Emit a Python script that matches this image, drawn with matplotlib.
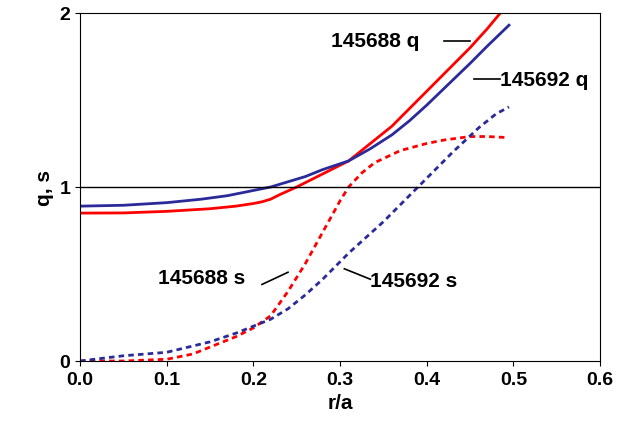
import matplotlib
matplotlib.use("Agg")
import matplotlib.pyplot as plt

plt.rcParams['font.family'] = ['Liberation Sans', 'DejaVu Sans']
plt.rcParams['font.weight'] = 'bold'

rq1 = [0, 0.05, 0.1, 0.15, 0.18, 0.2, 0.21, 0.22, 0.23, 0.25, 0.27, 0.29, 0.31, 0.335, 0.36, 0.38, 0.4, 0.425, 0.45, 0.47, 0.485]
q1 = [0.85, 0.851, 0.86, 0.875, 0.89, 0.905, 0.915, 0.93, 0.955, 1.0, 1.05, 1.1, 1.15, 1.25, 1.35, 1.45, 1.55, 1.675, 1.8, 1.91, 2.0]
rq2 = [0, 0.05, 0.1, 0.14, 0.17, 0.2, 0.22, 0.24, 0.26, 0.28, 0.31, 0.335, 0.36, 0.38, 0.4, 0.425, 0.45, 0.47, 0.495]
q2 = [0.89, 0.895, 0.91, 0.93, 0.95, 0.98, 1.0, 1.03, 1.06, 1.1, 1.15, 1.22, 1.3, 1.38, 1.47, 1.59, 1.71, 1.81, 1.93]
rs1 = [0, 0.05, 0.1, 0.13, 0.15, 0.18, 0.2, 0.22, 0.24, 0.26, 0.28, 0.3, 0.31, 0.325, 0.34, 0.37, 0.4, 0.42, 0.45, 0.47, 0.49]
s1 = [0, 0.0, 0.01, 0.04, 0.08, 0.14, 0.19, 0.26, 0.4, 0.56, 0.74, 0.92, 1.0, 1.08, 1.14, 1.21, 1.25, 1.27, 1.29, 1.29, 1.285]
rs2 = [0, 0.05, 0.1, 0.15, 0.18, 0.2, 0.22, 0.24, 0.26, 0.28, 0.31, 0.35, 0.39, 0.43, 0.46, 0.48, 0.495]
s2 = [0, 0.03, 0.05, 0.11, 0.16, 0.2, 0.24, 0.3, 0.38, 0.47, 0.62, 0.8, 1.0, 1.2, 1.34, 1.42, 1.46]

red = '#ff0000'
blue = '#2a2a9a'
fig = plt.figure(figsize=(6.39, 4.35), dpi=100)
ax = fig.add_axes([80/639, 1-362/435, 520/639, 348/435])
ax.plot(rq1, q1, color=red, lw=2)
ax.plot(rq2, q2, color=blue, lw=2)
ax.plot(rs1, s1, color=red, lw=2, ls=(0, (2, 1.5)))
ax.plot(rs2, s2, color=blue, lw=2, ls=(0, (2, 1.5)))
ax.axhline(1, color='black', lw=1)
ax.set_xlim(0, 0.6)
ax.set_ylim(0, 2)
ax.set_xticks([0, 0.1, 0.2, 0.3, 0.4, 0.5, 0.6])
ax.set_xticklabels(['0.0', '0.1', '0.2', '0.3', '0.4', '0.5', '0.6'])
ax.set_yticks([0, 1, 2])
ax.tick_params(labelsize=14, direction='out')
ax.set_xlabel('r/a', fontsize=15, fontweight='bold')
ax.set_ylabel('q, s', fontsize=15, fontweight='bold')
fs = 15
ax.text(0.29, 1.84, '145688 q', fontsize=fs, fontweight='bold', va='center')
ax.plot([0.42, 0.45], [1.84, 1.84], color='black', lw=1.2)
ax.text(0.485, 1.62, '145692 q', fontsize=fs, fontweight='bold', va='center')
ax.plot([0.455, 0.485], [1.62, 1.62], color='black', lw=1.2)
ax.text(0.09, 0.48, '145688 s', fontsize=fs, fontweight='bold', va='center')
ax.plot([0.21, 0.24], [0.44, 0.51], color='black', lw=1.2)
ax.text(0.335, 0.46, '145692 s', fontsize=fs, fontweight='bold', va='center')
ax.plot([0.305, 0.335], [0.53, 0.47], color='black', lw=1.2)
fig.savefig('out.png', dpi=100)
